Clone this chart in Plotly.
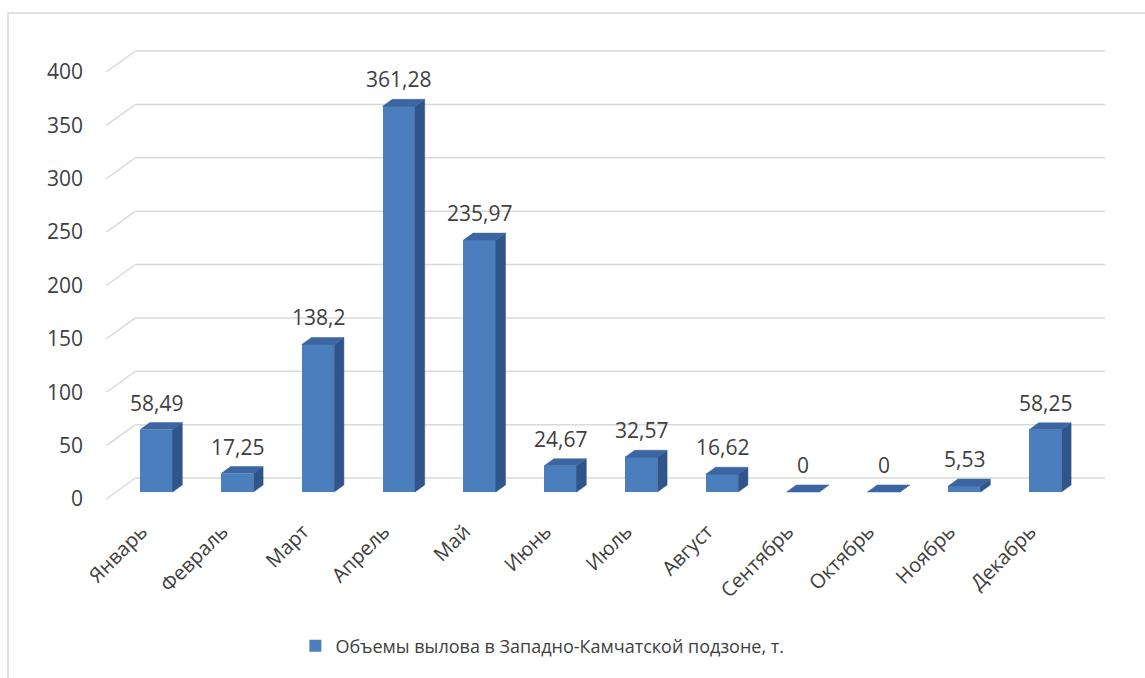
import plotly.graph_objects as go

# Monthly catch volumes, tonnes
months = ["Январь", "Февраль", "Март", "Апрель", "Май", "Июнь",
          "Июль", "Август", "Сентябрь", "Октябрь", "Ноябрь", "Декабрь"]
catch = [58.49, 17.25, 138.2, 361.28, 235.97, 24.67, 32.57, 16.62, 0, 0, 5.53, 58.25]
y_ticks = [0, 50, 100, 150, 200, 250, 300, 350, 400]
series_name = "Объемы вылова в Западно-Камчатской подзоне, т."

FONT = "Open Sans"
TEXT_COLOR = "#404040"
GRID_COLOR = "#d9d9d9"
FRONT = "#4a7ebd"
SIDE = "#30558a"
TOP = "#3b66a2"

W, H = 1145, 678
# plot area in pixels
L, R, T, B = 100, 1110, 40, 505
# scale of the bar front plane
cat_px = 80.8      # pixels per category
x0_px = 156.4      # pixel of first category centre
val_px = 1.0675    # pixels per tonne
base_px = 492      # pixel of value 0

x_range = [(L - x0_px) / cat_px, (R - x0_px) / cat_px]
y_range = [(base_px - B) / val_px, (base_px - T) / val_px]

# one depth step of the pseudo-3D box, in data units
step_x = 9.7 / cat_px
step_y = 7.0 / val_px
half_w = 16.2 / cat_px

fig = go.Figure()

# front faces
fig.add_trace(go.Bar(
    x=list(range(len(months))), y=catch, width=2 * half_w,
    marker=dict(color=FRONT, line=dict(width=0)),
    name=series_name, showlegend=True, hoverinfo="skip",
))

# side and top faces
side_x, side_y, top_x, top_y = [], [], [], []
for i, v in enumerate(catch):
    xr = i + half_w
    side_x += [xr, xr + step_x, xr + step_x, xr, xr, None]
    side_y += [0, step_y, v + step_y, v, 0, None]
    xl = i - half_w
    top_x += [xl, xl + step_x, xr + step_x, xr, xl, None]
    top_y += [v, v + step_y, v + step_y, v, v, None]

fig.add_trace(go.Scatter(x=side_x, y=side_y, mode="lines", fill="toself",
                         fillcolor=SIDE, line=dict(color=SIDE, width=0.5),
                         showlegend=False, hoverinfo="skip"))
fig.add_trace(go.Scatter(x=top_x, y=top_y, mode="lines", fill="toself",
                         fillcolor=TOP, line=dict(color=TOP, width=0.5),
                         showlegend=False, hoverinfo="skip"))

# back wall gridlines with the diagonal floor/side links
shapes = []
front_left = -0.5 - step_x
back_left = -0.5 + 2 * step_x
back_right = len(months) - 0.5 + 2 * step_x
for t in y_ticks:
    yf = t - step_y
    yb = t + 2 * step_y
    shapes.append(dict(type="line", xref="x", yref="y", x0=front_left, y0=yf,
                       x1=back_left, y1=yb, line=dict(color=GRID_COLOR, width=1.5),
                       layer="below"))
    shapes.append(dict(type="line", xref="x", yref="y", x0=back_left, y0=yb,
                       x1=back_right, y1=yb, line=dict(color=GRID_COLOR, width=1.5),
                       layer="below"))

# chart frame
shapes.append(dict(type="rect", xref="paper", yref="paper",
                   x0=(8 - L) / (R - L), x1=1.2,
                   y0=-0.6, y1=(B - 13) / (B - T),
                   line=dict(color=GRID_COLOR, width=1.5), layer="below"))

# value labels above each bar
annotations = []
for i, v in enumerate(catch):
    annotations.append(dict(
        x=i, y=v + step_y, xref="x", yref="y",
        text=f"{v:g}".replace(".", ","), showarrow=False,
        yanchor="bottom", xanchor="center", yshift=4,
        font=dict(family=FONT, size=21, color=TEXT_COLOR),
    ))

fig.update_layout(
    width=W, height=H, autosize=False,
    margin=dict(l=L, r=W - R, t=T, b=H - B),
    paper_bgcolor="white", plot_bgcolor="white",
    font=dict(family=FONT, size=20, color=TEXT_COLOR),
    shapes=shapes, annotations=annotations,
    bargap=0,
    showlegend=True,
    legend=dict(orientation="h", x=0.438, xanchor="center",
                y=(B - 646) / (B - T), yanchor="middle",
                font=dict(family=FONT, size=18, color=TEXT_COLOR),
                bgcolor="rgba(0,0,0,0)"),
    xaxis=dict(range=x_range, tickmode="array",
               tickvals=list(range(len(months))), ticktext=months,
               tickangle=-45, showgrid=False, zeroline=False, showline=False,
               ticks="", ticklabelshift=-15, ticklabelstandoff=10,
               tickfont=dict(family=FONT, size=20, color=TEXT_COLOR),
               fixedrange=True),
    yaxis=dict(range=y_range, tickmode="array", tickvals=y_ticks,
               showgrid=False, zeroline=False, showline=False, ticks="",
               ticklabelshift=7, ticklabelstandoff=16,
               tickfont=dict(family=FONT, size=21, color=TEXT_COLOR),
               fixedrange=True),
)

fig.write_html("out.html")
